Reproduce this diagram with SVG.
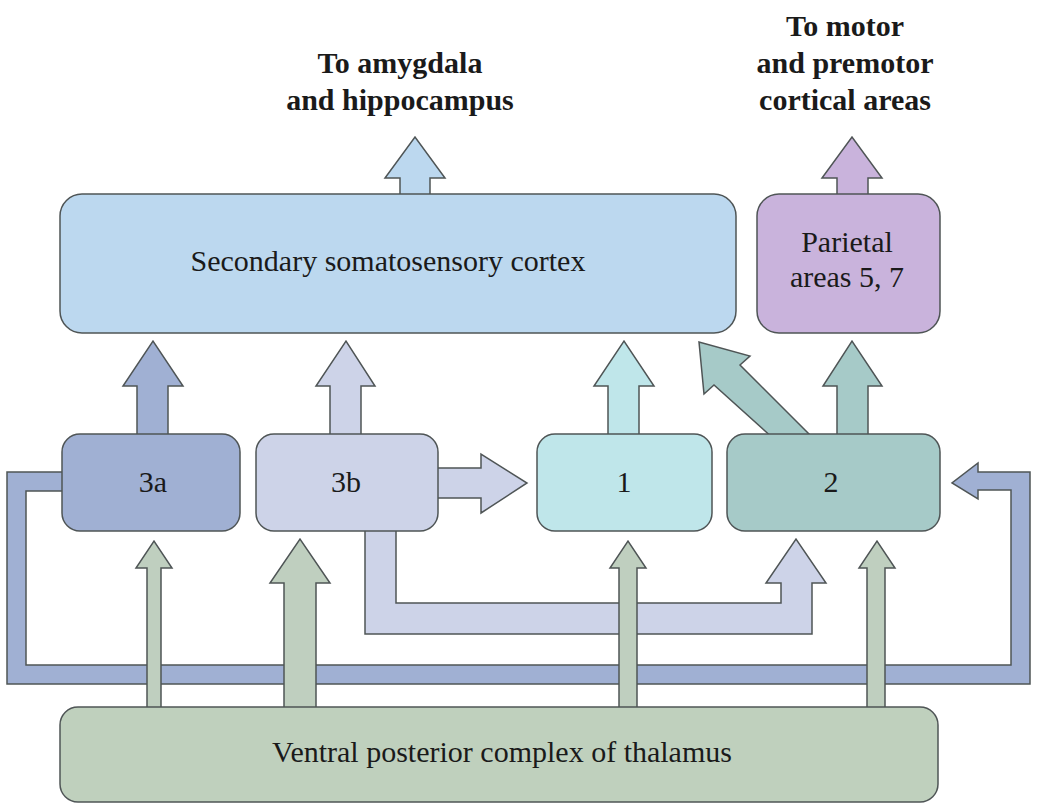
<svg xmlns="http://www.w3.org/2000/svg" width="1037" height="812" viewBox="0 0 1037 812">
<style>
.s{stroke:#4f5556;stroke-width:1.5;stroke-linejoin:miter}
.t{font-family:"Liberation Serif","DejaVu Serif",serif;font-size:30px;fill:#1a1a1a;text-anchor:middle}
.b{font-weight:bold;font-size:30px}
.g{fill:#bfcfbf}
</style>
<rect width="1037" height="812" fill="#fff"/>
<g id="connectors">
<polygon class="s" fill="#a0b0d3" points="80,472 7,472 7,684 1030,684 1030,472 978,472 978,463 952,483 978,499 978,490 1011,490 1011,665 26,665 26,491 80,491"/>
<polygon class="s" fill="#cdd3e8" points="365,520 365,634 812,634 812,583 826,583 796,539 766,583 781,583 781,603 396,603 396,520"/>
<polygon class="s g" points="147,720 147,568 136,568 154,541 172,568 161,568 161,720"/>
<polygon class="s g" points="284,720 284,583 270,583 300,539 330,583 316,583 316,720"/>
<polygon class="s g" points="619,720 619,568 610,568 628,541 646,568 637,568 637,720"/>
<polygon class="s g" points="867,720 867,568 859,568 877,541 895,568 885,568 885,720"/>
<polygon class="s" fill="#a0b0d3" points="137,440 137,386 123,386 153,341 183,386 168,386 168,440"/>
<polygon class="s" fill="#cdd3e8" points="330,440 330,386 316,386 346,341 375,386 361,386 361,440"/>
<polygon class="s" fill="#cdd3e8" points="430,468 481,468 481,454 527,483 481,513 481,498 430,498"/>
<polygon class="s" fill="#bfe6ea" points="608,440 608,386 594,386 624,341 654,386 639,386 639,440"/>
<polygon class="s" fill="#a6cac8" points="837,440 837,386 823,386 852,341 882,386 868,386 868,440"/>
<polygon class="s" fill="#a6cac8" points="775,440 714,385 704,394 699,342 750,356 740,365 815,440"/>
<polygon class="s" fill="#bcd8ef" points="400,200 400,178 385,178 415,137 445,178 430,178 430,200"/>
<polygon class="s" fill="#c9b3dc" points="837,200 837,178 822,178 852,137 882,178 868,178 868,200"/>
</g>
<g id="secondary"><rect class="s" x="60" y="194" width="676" height="139" rx="22" fill="#bcd8ef"/><text class="t" x="388" y="271">Secondary somatosensory cortex</text></g>
<g id="parietal"><rect class="s" x="757" y="194" width="183" height="139" rx="22" fill="#c9b3dc"/><text class="t" x="847" y="252">Parietal</text><text class="t" x="847" y="287">areas 5, 7</text></g>
<g id="n3a"><rect class="s" x="62" y="434" width="178" height="97" rx="18" fill="#a0b0d3"/><text class="t" x="153" y="492">3a</text></g>
<g id="n3b"><rect class="s" x="256" y="434" width="182" height="97" rx="18" fill="#cdd3e8"/><text class="t" x="346" y="492">3b</text></g>
<g id="n1"><rect class="s" x="537" y="434" width="175" height="97" rx="18" fill="#bfe6ea"/><text class="t" x="624" y="492">1</text></g>
<g id="n2"><rect class="s" x="727" y="434" width="213" height="97" rx="18" fill="#a6cac8"/><text class="t" x="831" y="492">2</text></g>
<g id="thalamus"><rect class="s" x="60" y="707" width="878" height="95" rx="18" fill="#bfd0bd"/><text class="t" x="502" y="762">Ventral posterior complex of thalamus</text></g>
<g id="labels">
<text class="t b" x="400" y="73">To amygdala</text><text class="t b" x="400" y="110">and hippocampus</text>
<text class="t b" x="845" y="36">To motor</text><text class="t b" x="845" y="73">and premotor</text><text class="t b" x="845" y="110">cortical areas</text>
</g>
</svg>
